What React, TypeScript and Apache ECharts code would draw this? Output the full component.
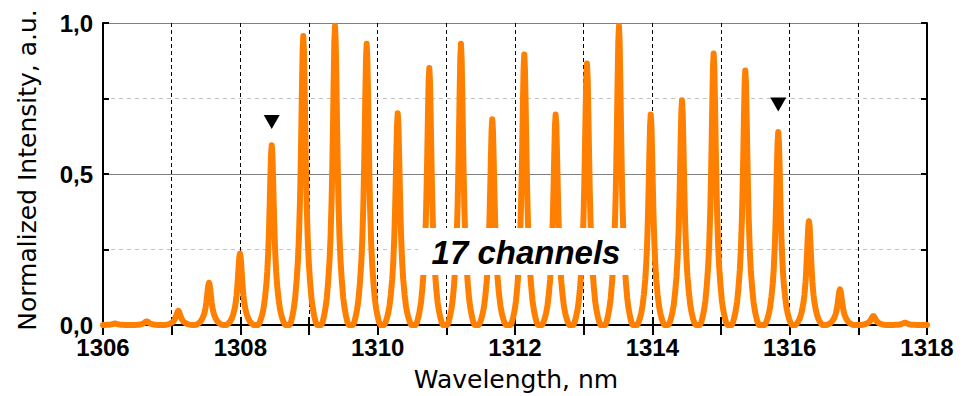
import React, { useEffect, useRef } from "react";
import * as echarts from "echarts";

// Peak centres (nm) and normalized peak heights
const peakWavelengthsNm = [
  1306.175, 1306.636, 1307.097, 1307.544, 1307.995, 1308.457, 1308.917, 1309.379,
  1309.84, 1310.292, 1310.752, 1311.213, 1311.669, 1312.135, 1312.592, 1313.048,
  1313.514, 1313.977, 1314.432, 1314.893, 1315.354, 1315.834, 1316.281, 1316.733,
  1317.218, 1317.679,
];
const peakHeights = [
  0.005, 0.012, 0.047, 0.14, 0.237, 0.595, 0.957, 0.99, 0.931, 0.701, 0.851, 0.931,
  0.681, 0.896, 0.697, 0.866, 0.99, 0.697, 0.744, 0.899, 0.843, 0.639, 0.344, 0.118,
  0.03, 0.008,
];
// Shape of a single peak (offset from centre in nm, level relative to peak height)
const profileOffsetNm = [
  -0.2, -0.18, -0.16, -0.14, -0.12, -0.1, -0.08, -0.065, -0.05, -0.04, -0.03, -0.02, -0.01, 0,
  0.01, 0.02, 0.03, 0.04, 0.05, 0.065, 0.08, 0.1, 0.12, 0.14, 0.16, 0.18, 0.2,
];
const profileLevel = [
  0, 0.01, 0.03, 0.055, 0.09, 0.145, 0.216, 0.295, 0.414, 0.524, 0.662, 0.815, 0.946, 1,
  0.946, 0.815, 0.662, 0.524, 0.414, 0.295, 0.216, 0.145, 0.09, 0.055, 0.03, 0.01, 0,
];
// Triangle markers above the outer channels
const markerWavelengthsNm = [1308.457, 1315.834];
const markerLevels = [0.672, 0.73];
// Tick labels
const xLabelValues = [1306, 1308, 1310, 1312, 1314, 1316, 1318];
const yLabelValues = [0, 0.5, 1];
const xMin = 1306;
const xMax = 1318;

function buildSpectrum(): number[][] {
  const pts: number[][] = [[xMin, 0]];
  peakWavelengthsNm.forEach((c, i) => {
    profileOffsetNm.forEach((o, j) => {
      pts.push([c + o, peakHeights[i] * profileLevel[j]]);
    });
  });
  pts.push([xMax, 0]);
  return pts
    .filter((p) => p[0] >= xMin && p[0] <= xMax)
    .sort((a, b) => a[0] - b[0]);
}

export default function App() {
  const ref = useRef<HTMLDivElement>(null);
  useEffect(() => {
    if (!ref.current) return;
    const chart = echarts.init(ref.current, null, { renderer: "svg" });
    const tickFont = {
      fontFamily: "'Liberation Sans', Arial, sans-serif",
      fontWeight: "bold" as const,
      fontSize: 24,
      lineHeight: 18,
      color: "#000",
    };
    const axisLine = { show: true, lineStyle: { color: "#000", width: 2 } };
    chart.setOption({
      animation: false,
      backgroundColor: "#fff",
      grid: { left: 103, right: 45, top: 23, bottom: 71, containLabel: false },
      xAxis: [
        {
          type: "value",
          position: "bottom",
          min: xMin,
          max: xMax,
          interval: 1,
          axisLine,
          axisTick: { show: true, inside: true, length: 8, lineStyle: { color: "#000", width: 2 } },
          axisLabel: {
            ...tickFont,
            margin: 13,
            formatter: (v: number) => (xLabelValues.includes(v) ? String(v) : ""),
          },
          splitLine: { show: true, lineStyle: { color: "#000", width: 1, type: [4, 3] } },
        },
        {
          type: "value",
          position: "top",
          min: xMin,
          max: xMax,
          interval: 1,
          axisLine,
          axisTick: { show: true, inside: true, length: 10, lineStyle: { color: "#000", width: 2 } },
          axisLabel: { show: false },
          splitLine: { show: false },
        },
      ],
      yAxis: [
        {
          type: "value",
          position: "left",
          min: 0,
          max: 1,
          interval: 0.25,
          axisLine,
          axisTick: { show: true, inside: true, length: 6, lineStyle: { color: "#000", width: 2 } },
          axisLabel: {
            ...tickFont,
            margin: 10,
            formatter: (v: number) =>
              yLabelValues.includes(v) ? v.toFixed(1).replace(".", ",") : "",
          },
          splitLine: { show: true, lineStyle: { color: "#c4c4c4", width: 1, type: [4, 4] } },
        },
        {
          type: "value",
          position: "right",
          min: 0,
          max: 1,
          interval: 0.25,
          axisLine,
          axisTick: { show: true, inside: true, length: 6, lineStyle: { color: "#000", width: 2 } },
          axisLabel: { show: false },
          splitLine: { show: false },
        },
        {
          type: "value",
          position: "left",
          min: 0,
          max: 1,
          interval: 0.5,
          axisLine: { show: false },
          axisTick: { show: false },
          axisLabel: { show: false },
          splitLine: { show: true, lineStyle: { color: "#808080", width: 1, type: "solid" } },
        },
      ],
      series: [
        {
          type: "line",
          xAxisIndex: 0,
          yAxisIndex: 0,
          data: buildSpectrum(),
          showSymbol: false,
          symbol: "none",
          lineStyle: { color: "#ff8000", width: 6, cap: "round", join: "round" },
          z: 5,
        },
        {
          type: "scatter",
          xAxisIndex: 0,
          yAxisIndex: 0,
          data: markerWavelengthsNm.map((w, i) => [w, markerLevels[i]]),
          symbol: "triangle",
          symbolRotate: 180,
          symbolSize: [16, 14],
          itemStyle: { color: "#000", opacity: 1 },
          z: 6,
        },
      ],
      graphic: [
        {
          type: "text",
          x: 27,
          y: 170,
          rotation: Math.PI / 2,
          style: {
            text: "Normalized Intensity, a.u.",
            font: "25px 'DejaVu Sans'",
            fill: "#000",
            align: "center",
            verticalAlign: "middle",
          },
        },
        {
          type: "text",
          x: 516,
          y: 379,
          style: {
            text: "Wavelength, nm",
            font: "25px 'DejaVu Sans'",
            fill: "#000",
            align: "center",
            verticalAlign: "middle",
          },
        },
        {
          type: "rect",
          z: 100,
          shape: { x: 418, y: 228, width: 216, height: 47 },
          style: { fill: "#fff" },
        },
        {
          type: "text",
          z: 101,
          x: 526,
          y: 252,
          style: {
            text: "17 channels",
            font: "italic bold 33px 'Liberation Sans'",
            fill: "#000",
            align: "center",
            verticalAlign: "middle",
          },
        },
      ],
    });
    return () => chart.dispose();
  }, []);
  return (
    <div
      ref={ref}
      style={{ position: "fixed", left: 0, top: 0, width: 972, height: 396, background: "#fff" }}
    />
  );
}
